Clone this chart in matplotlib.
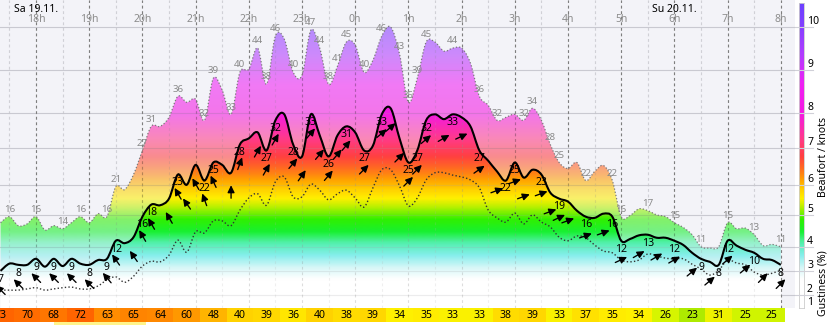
import numpy as np
import matplotlib
matplotlib.use('Agg')
import matplotlib.pyplot as plt
import matplotlib.transforms as mtransforms
from matplotlib.colors import LinearSegmentedColormap, Normalize
from matplotlib.path import Path
from matplotlib.patches import PathPatch, Rectangle
from matplotlib.lines import Line2D

plt.rcParams['font.family'] = ['Noto Sans', 'DejaVu Sans']

# 10 minute forecast steps, starting Sa 19.11. 17:20 (hours after midnight)
t_start = 17 + 20 / 60
step = 10 / 60

gust = [15, 16, 14.5, 14.8, 16, 13.8, 14.5, 14, 15, 16,
        15, 16.5, 16, 21, 20.5, 23, 27, 31, 31, 32.5,
        36, 35, 35.5, 32, 39, 37, 33, 40, 40.5, 44,
        38, 46, 45.5, 40, 39.5, 47, 44, 38, 41, 45,
        44.5, 40, 42, 46, 47.5, 43, 35, 39, 45, 45,
        43.5, 44, 44, 41.5, 36, 34.5, 32, 32.5, 33, 32,
        34, 32, 28, 25, 24, 25, 22, 23.5, 24.5, 22,
        16, 16.2, 17.3, 17, 16.3, 16, 15, 14.2, 13, 11,
        10.8, 11, 15, 14, 14.1, 13, 11.2, 11.4, 11]

wind = [7, 8.2, 8, 8, 9, 7.7, 9, 7.8, 9, 8.2,
        8, 8.8, 9, 12, 11.6, 12.6, 16, 18, 17.9, 19,
        23, 21.3, 24.6, 22, 25, 24.6, 23.3, 28, 29, 30,
        27, 32, 33, 28, 26, 33, 29.5, 26, 29.5, 31,
        30, 27, 27.8, 33, 34, 29, 25, 27, 32, 33,
        32.2, 33, 32.5, 31, 27, 25.3, 23.5, 22, 25, 22.5,
        23.8, 23, 20, 19, 18.5, 17, 16, 15.8, 16.5, 16,
        12, 12.3, 12.9, 13, 12.5, 12.5, 12, 11.3, 10, 9,
        8.5, 8, 12, 11.2, 10.5, 10, 9, 8.8, 8]

lull = [3.8, 3.8, 3.8, 4.0, 4.2, 3.8, 4.0, 4.2, 4.3, 4.0,
        4.0, 4.5, 5.5, 6.0, 5.1, 6.1, 7.8, 8.6, 8.5, 9.6,
        12.1, 10.1, 13.5, 13.3, 15.3, 15.3, 14.5, 17.1, 19.1, 19.8,
        17.9, 21.8, 22.6, 19.3, 19.3, 21.4, 20.4, 18.8, 19.8, 20.4,
        19.1, 17.6, 20.8, 23.8, 23.8, 21.1, 17.8, 19.1, 22.1, 23.3,
        23.3, 22.9, 22.6, 22.1, 20.8, 17.1, 15.8, 15.1, 16.6, 14.8,
        16.3, 15.1, 14.3, 12.6, 12.0, 12.8, 12.5, 11.3, 10.3, 10.0,
        8.8, 8.5, 8.8, 9.8, 9.5, 9.1, 9.0, 9.0, 8.1, 7.3,
        6.3, 7.1, 8.8, 8.3, 8.0, 6.8, 6.3, 6.6, 7.1]

# steps that get a value written next to the curve
gust_marks = [1, 4, 7, 9, 12, 13, 16, 17, 20, 23, 24, 26, 27, 29, 30, 31, 33, 35,
              36, 37, 38, 39, 41, 43, 45, 46, 47, 48, 51, 54, 56, 59, 60, 62, 63,
              66, 69, 70, 73, 76, 79, 82, 85, 88]
wind_marks = [0, 2, 4, 6, 8, 10, 12, 13, 16, 17, 20, 23, 24, 27, 30, 31, 33, 35,
              37, 39, 41, 43, 46, 47, 48, 51, 54, 57, 58, 61, 63, 66, 69, 70, 73,
              76, 79, 81, 82, 85, 88]

# wind direction (degrees, where the wind comes from) at the arrow steps
arrow_idx = [0, 2, 4, 6, 8, 10, 12, 13, 15, 16, 17, 19, 20, 21, 22, 23, 24, 26,
             27, 29, 30, 31, 33, 34, 35, 36, 37, 38, 39, 41, 43, 44, 45, 46, 47,
             48, 50, 52, 54, 56, 58, 59, 61, 62, 63, 64, 66, 68, 70, 72, 74, 76,
             78, 80, 82, 84, 86, 88]
wind_dir = [135, 135, 135, 135, 135, 135, 140, 145, 145, 150, 150, 150, 150, 145,
            150, 160, 155, 180, 200, 210, 210, 210, 220, 215, 220, 220, 220, 220,
            220, 225, 230, 230, 225, 225, 225, 230, 240, 245, 235, 250, 250, 250,
            250, 250, 245, 250, 250, 250, 245, 240, 240, 240, 230, 230, 230, 230,
            225, 225]

# gustiness per half hour, first cell centred on 17:20
gustiness = [73, 70, 68, 72, 63, 65, 64, 60, 48, 40, 39, 36, 40, 38, 39,
             34, 35, 33, 33, 38, 39, 33, 37, 35, 34, 26, 23, 31, 25, 25]
next_row_span = (18 + 20 / 60, 20 + 4 / 60)

# lower knot limits of Beaufort 2..10
bft_edges = [3, 7, 11, 16.3, 21.3, 27.4, 33.3, 40.4, 47.5]

hours = list(range(18, 33))

W, H = 831, 325
px_h, px_kt = 53.2, 6.02
t_left = 18 - 36 / px_h
kt_top = 313 / px_kt
kt_bot = 5 / px_kt

wind_cmap = LinearSegmentedColormap.from_list('wind', [
    (0 / 52, '#ffffff'), (5.5 / 52, '#ffffff'), (7.5 / 52, '#d6f7f7'),
    (9.5 / 52, '#86eeec'), (11.5 / 52, '#55f0b0'), (13.5 / 52, '#18f030'),
    (15.5 / 52, '#30f000'), (17.5 / 52, '#b4f000'), (19 / 52, '#fff000'),
    (20.5 / 52, '#ffd000'), (22 / 52, '#ffa400'), (24 / 52, '#ff6c20'),
    (26 / 52, '#ff4040'), (29 / 52, '#ff3a8a'), (33 / 52, '#f41ae0'),
    (38 / 52, '#f020f4'), (43 / 52, '#b23cff'), (48 / 52, '#8240ff'),
    (52 / 52, '#6a40ff')])

gusty_cmap = LinearSegmentedColormap.from_list('gusty', [
    (0.0, '#7ddc00'), (5 / 52, '#d2f500'), (11 / 52, '#eef200'),
    (14 / 52, '#fff000'), (18 / 52, '#ffdc00'), (20 / 52, '#ffd200'),
    (28 / 52, '#ffb400'), (40 / 52, '#ff9800'), (45 / 52, '#ff8400'),
    (52 / 52, '#ff6400')])
gusty_norm = Normalize(20, 72)


def smooth_path(x, y, base=None):
    # Catmull-Rom through the points, written as cubic Bezier segments
    pts = np.column_stack([x, y]).astype(float)
    ext = np.vstack([pts[0], pts, pts[-1]])
    verts, codes = [pts[0]], [Path.MOVETO]
    for i in range(len(pts) - 1):
        p0, p1, p2, p3 = ext[i], ext[i + 1], ext[i + 2], ext[i + 3]
        verts += [p1 + (p2 - p0) / 6, p2 - (p3 - p1) / 6, p2]
        codes += [Path.CURVE4] * 3
    if base is not None:
        verts += [(x[-1], base), (x[0], base), pts[0]]
        codes += [Path.LINETO, Path.LINETO, Path.CLOSEPOLY]
    return Path(verts, codes)


t = t_start + step * np.arange(len(wind))

fig = plt.figure(figsize=(W / 100, H / 100), dpi=100)
ax = fig.add_axes([0, 17 / H, 795 / W, 308 / H])
ax.set_facecolor('#f3f3f8')
for s in ax.spines.values():
    s.set_visible(False)
ax.set_xticks([])
ax.set_yticks([])
xlim = (t_left, t_left + 795 / px_h)

grad = wind_cmap(np.linspace(0, 1, 800))[:, None, :]

# grid
for e in bft_edges:
    ax.axhline(e, color='#d4d4dc', lw=0.8, zorder=0.5)
    ax.axhline(e, color='#a0a0a8', lw=0.8, alpha=0.2, zorder=2.5)
for h in hours:
    ax.axvline(h, color='#777777', lw=0.8, ls=(0, (2.5, 2.5)), zorder=0.6)
    ax.axvline(h, color='#909090', lw=0.8, ls=(0, (2.5, 2.5)), alpha=0.3, zorder=2.5)
    ax.axvline(h - 0.5, color='#d8d8e0', lw=0.8, ls=(0, (2.5, 2.5)), zorder=0.6)
    ax.axvline(h - 0.5, color='#b0b0b0', lw=0.8, ls=(0, (2.5, 2.5)), alpha=0.2, zorder=2.5)

# gust area (pale) and wind area (full colour)
for series, alpha, z in [(gust, 0.58, 1), (wind, 1.0, 2)]:
    clip = PathPatch(smooth_path(t, series, base=0), transform=ax.transData,
                     facecolor='none', edgecolor='none')
    ax.add_patch(clip)
    im = ax.imshow(grad, extent=(xlim[0], xlim[1], 0, 52), origin='lower',
                   aspect='auto', interpolation='bilinear', alpha=alpha, zorder=z)
    im.set_clip_path(clip)

ax.add_patch(PathPatch(smooth_path(t, gust), fill=False, edgecolor='#7a7a7a',
                       lw=0.9, ls=(0, (1, 1.6)), zorder=3))
ax.add_patch(PathPatch(smooth_path(t, lull), fill=False, edgecolor='#333333',
                       lw=1.0, ls=(0, (1, 1.6)), zorder=3))
ax.add_patch(PathPatch(smooth_path(t, wind), fill=False, edgecolor='black',
                       lw=1.5, zorder=4))

for i in gust_marks:
    ax.annotate('%d' % round(gust[i]), (t[i], gust[i]), xytext=(0, 2),
                textcoords='offset points', ha='center', va='bottom',
                fontsize=7, color='#8a8a8a', zorder=6)
for i in wind_marks:
    ax.annotate('%d' % round(wind[i]), (t[i], wind[i]), xytext=(0, -2),
                textcoords='offset points', ha='center', va='top',
                fontsize=7.5, color='black', zorder=6)

# direction arrows below the wind curve
L = 13
for i, d in zip(arrow_idx, wind_dir):
    a = np.deg2rad(270 - d)
    hx, hy = L / 2 * np.cos(a), -19 + L / 2 * np.sin(a)
    tr = mtransforms.offset_copy(ax.transData, fig=fig, x=hx, y=hy, units='dots')
    ax.annotate('', xy=(t[i], wind[i]), xycoords=tr,
                xytext=(-L * np.cos(a), -L * np.sin(a)), textcoords='offset pixels',
                arrowprops=dict(arrowstyle='-|>,head_length=0.45,head_width=0.22',
                                color='black', lw=0.95, shrinkA=0, shrinkB=0,
                                mutation_scale=9.5),
                zorder=5)

top = mtransforms.blended_transform_factory(ax.transData, ax.transAxes)
for h in hours:
    ax.text(h, 1 - 19 / 308, '%dh' % (h % 24), transform=top, ha='center',
            va='center', fontsize=7.5, color='#8c8c8c', zorder=6)
ax.text(18, 1 - 9 / 308, 'Sa 19.11.', transform=top, ha='center', va='center',
        fontsize=7.5, color='black', zorder=6)
ax.text(30, 1 - 9 / 308, 'Su 20.11.', transform=top, ha='center', va='center',
        fontsize=7.5, color='black', zorder=6)

ax.set_xlim(*xlim)
ax.set_ylim(kt_bot, kt_top)

# Beaufort colour bar
cax = fig.add_axes([799 / W, 17 / H, 5 / W, 305 / H])
cax.imshow(grad, extent=(0, 1, 0, 52), origin='lower', aspect='auto')
cax.set_xlim(0, 1)
cax.set_ylim(kt_bot, (313 - 3) / px_kt)
cax.set_xticks([])
cax.set_yticks([])
for s in cax.spines.values():
    s.set_color('#cccccc')
    s.set_linewidth(0.6)

side = mtransforms.blended_transform_factory(fig.transFigure, ax.transData)
for e in bft_edges:
    fig.add_artist(Line2D([795 / W, 813 / W], [e, e], transform=side,
                          color='#d0d0d8', lw=0.8))
for n, e in enumerate([kt_bot] + bft_edges, start=1):
    fig.text(807 / W, e, str(n), transform=side, ha='left', va='bottom',
             fontsize=7.5, color='black')
fig.text(823 / W, 1 - 157 / H, 'Beaufort / knots', rotation=90, ha='center',
         va='center', fontsize=7.5)
fig.text(823 / W, 1 - 283 / H, 'Gustiness (%)', rotation=90, ha='center',
         va='center', fontsize=7.5)

# gustiness strip
sax = fig.add_axes([0, 0, 785 / W, 17 / H])
sax.set_xlim(t_left, t_left + 785 / px_h)
sax.set_ylim(0, 17)
sax.axis('off')
for i, g in enumerate(gustiness):
    c = t_start + 0.5 * i
    sax.add_patch(Rectangle((c - 0.25, 3), 0.5, 14, facecolor=gusty_cmap(gusty_norm(g)),
                            edgecolor='none'))
    sax.text(c, 10, str(g), ha='center', va='center', fontsize=7.5, color='black')
sax.add_patch(Rectangle((next_row_span[0], 0), next_row_span[1] - next_row_span[0], 3,
                        facecolor='#fff48a', edgecolor='none'))

fig.savefig('out.png', dpi=100)
